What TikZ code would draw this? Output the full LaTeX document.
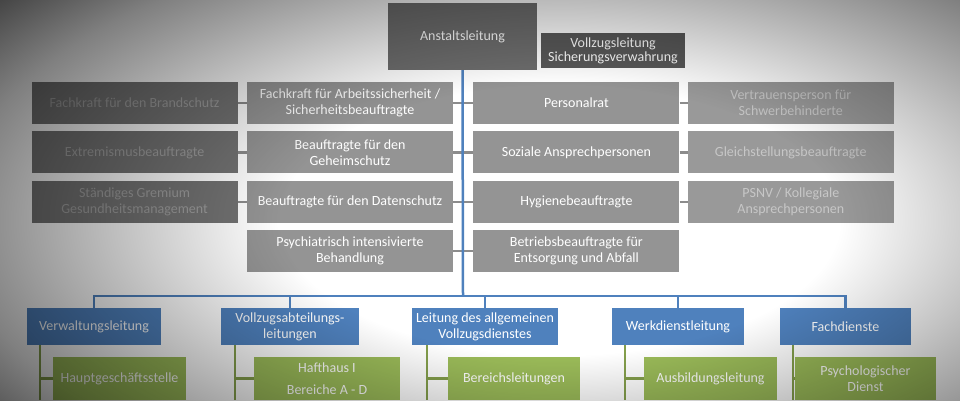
\documentclass[tikz,border=0pt]{standalone}
\usepackage{fontspec}
\setmainfont{Carlito}
\usetikzlibrary{positioning, fadings, calc}
\definecolor{orgblue}{HTML}{4F81BD}
\definecolor{orggreen}{HTML}{9BBB59}
\pgfdeclareradialshading{vignshade}{\pgfpointorigin}{color(0bp)=(black); color(12bp)=(black); color(26bp)=(black!50!white); color(37bp)=(white); color(50bp)=(white)}
\pgfdeclarefading{vignette}{\pgfuseshading{vignshade}}
\tikzset{
  box/.style={draw=none, minimum height=42, align=center, inner sep=2, font=\fontsize{14}{16}\selectfont},
  staff/.style={box, fill=black!42, text=white, minimum width=206},
  outer/.style={box, fill=black!55, text=black!38, minimum width=206},
  outerr/.style={box, fill=black!40, text=black!22, minimum width=206},
  dept/.style={box, fill=orgblue, text=white, minimum height=37},
  unit/.style={box, fill=orggreen, text=white, minimum height=43},
  trunk/.style={draw=orgblue, line width=2.5},
  twig/.style={draw=orggreen!85!black, line width=2.5},
  stub/.style={draw=black!45, line width=2.5}
}
\begin{document}
\begin{tikzpicture}[x=1pt, y=-1pt]
  \useasboundingbox (0,0) rectangle (960,400);
  \clip (0,0) rectangle (960,400);
  \fill[white] (0,0) rectangle (960,400);
  % top
  \node[box, fill=black!57, text=white, minimum width=149, minimum height=67] (head) at (462.5,36.5) {Anstaltsleitung};
  \node[box, fill=black!65, text=white, minimum width=144, minimum height=35, inner sep=1, font=\fontsize{14}{14}\selectfont] (deputy) at (613,50.5) {Vollzugsleitung\\Sicherungsverwahrung};
  \coordinate (spine) at (463,296);
  % staff units left
  \node[staff] (lin1) at (350,103) {Fachkraft für Arbeitssicherheit /\\Sicherheitsbeauftragte};
  \node[staff, below=7pt of lin1] (lin2) {Beauftragte für den\\Geheimschutz};
  \node[staff, below=7pt of lin2] (lin3) {Beauftragte für den Datenschutz};
  \node[staff, below=7pt of lin3] (lin4) {Psychiatrisch intensivierte\\Behandlung};
  \node[outer, left=9pt of lin1] (lout1) {Fachkraft für den Brandschutz};
  \node[outer, left=9pt of lin2] (lout2) {Extremismusbeauftragte};
  \node[outer, left=9pt of lin3] (lout3) {Ständiges Gremium\\Gesundheitsmanagement};
  % staff units right
  \node[staff, right=20pt of lin1] (rin1) {Personalrat};
  \node[staff, below=7pt of rin1] (rin2) {Soziale Ansprechpersonen};
  \node[staff, below=7pt of rin2] (rin3) {Hygienebeauftragte};
  \node[staff, below=7pt of rin3] (rin4) {Betriebsbeauftragte für\\Entsorgung und Abfall};
  \node[outerr, right=8pt of rin1] (rout1) {Vertrauensperson für\\Schwerbehinderte};
  \node[outerr, right=8pt of rin2] (rout2) {Gleichstellungsbeauftragte};
  \node[outerr, right=8pt of rin3] (rout3) {PSNV / Kollegiale\\Ansprechpersonen};
  \foreach \i in {1,2,3} {
    \draw[stub] (lout\i) -- (lin\i);
    \draw[stub] (rin\i) -- (rout\i);
  }
  \foreach \i in {1,...,4} {
    \draw[stub] (lin\i.east) -- (lin\i.east -| spine);
    \draw[stub] (rin\i.west) -- (rin\i.west -| spine);
  }
  % departments
  \node[dept, minimum width=134] (dep1) at (94,326.5) {Verwaltungsleitung};
  \node[dept, minimum width=138] (dep2) at (290,326.5) {Vollzugsabteilungs-\\leitungen};
  \node[dept, minimum width=146] (dep3) at (485,326.5) {Leitung des allgemeinen\\Vollzugsdienstes};
  \node[dept, minimum width=132] (dep4) at (678,326.5) {Werkdienstleitung};
  \node[dept, minimum width=131] (dep5) at (845.5,326.5) {Fachdienste};
  \draw[trunk] (head.south) -- (spine);
  \draw[trunk] (dep1.north) |- (spine) -| (dep5.north);
  \foreach \i in {2,3,4} \draw[trunk] (spine -| dep\i.north) -- (dep\i.north);
  % units
  \node[unit, minimum width=133] (sub1) at (119.5,378.5) {Hauptgeschäftsstelle};
  \node[unit, minimum width=146, font=\fontsize{14}{22}\selectfont] (sub2) at (327,378.5) {Hafthaus I\\Bereiche A - D};
  \node[unit, minimum width=132] (sub3) at (514,378.5) {Bereichsleitungen};
  \node[unit, minimum width=133] (sub4) at (710.5,378.5) {Ausbildungsleitung};
  \node[unit, minimum width=141] (sub5) at (865.5,378.5) {Psychologischer\\Dienst};
  \foreach \i/\x in {1/40,2/235,3/427,4/625,5/793} {
    \coordinate (drop\i) at (\x,345);
    \draw[twig] (drop\i) -- (\x,400);
    \draw[twig] (drop\i |- sub\i.west) -- (sub\i.west);
  }
  % vignette
  \fill[black, path fading=vignette, fit fading=true] (-20,-60) rectangle (1140,500);
\end{tikzpicture}
\end{document}
